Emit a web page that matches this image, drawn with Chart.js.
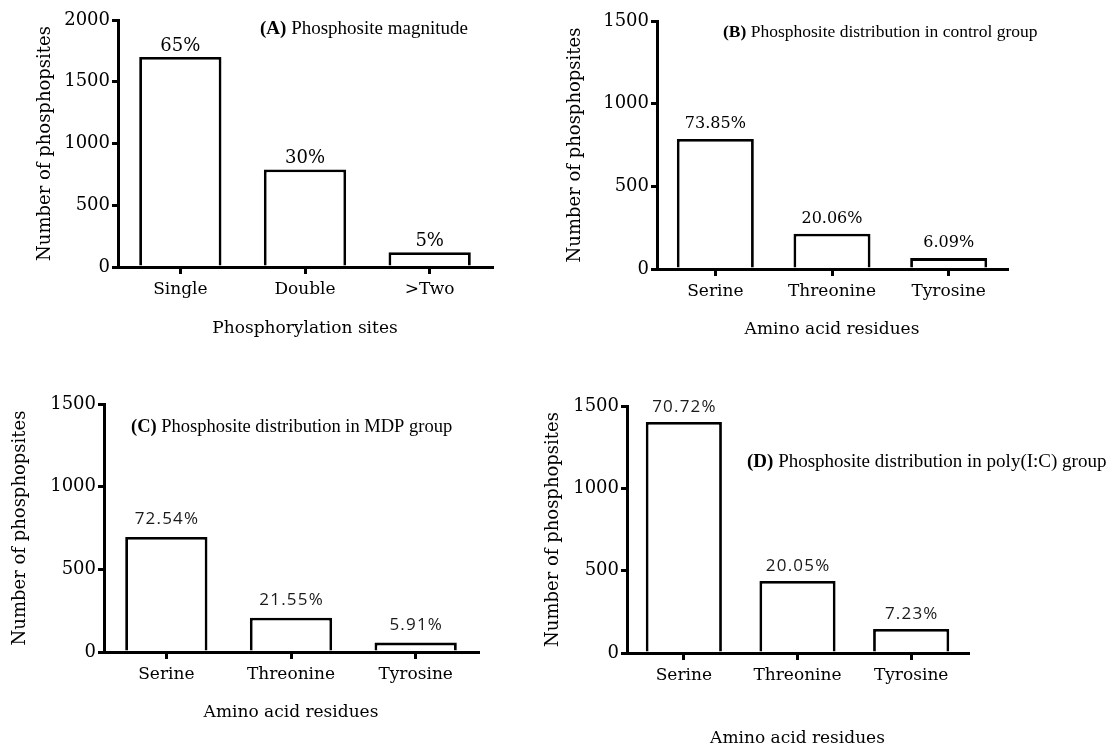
<!DOCTYPE html>
<html>
<head>
<meta charset="utf-8">
<script src="https://cdn.jsdelivr.net/npm/chart.js@4/dist/chart.umd.min.js"></script>
<style>
  html, body { margin: 0; padding: 0; background: #fff; overflow: hidden; }
  #wrap { position: relative; width: 1114px; height: 749px; }
  #wrap canvas { position: absolute; left: 0; top: 0; }
</style>
</head>
<body>
<div id="wrap">
  <canvas id="panelA" width="1114" height="749"></canvas>
  <canvas id="panelB" width="1114" height="749"></canvas>
  <canvas id="panelC" width="1114" height="749"></canvas>
  <canvas id="panelD" width="1114" height="749"></canvas>
</div>
<script>
// ---- data ----
const magnitudeCategories = ['Single', 'Double', '>Two'];
const magnitudeCounts = [1700, 790, 120];
const magnitudeShares = ['65%', '30%', '5%'];

const residueCategories = ['Serine', 'Threonine', 'Tyrosine'];

const controlCounts = [786, 213, 66];
const controlShares = ['73.85%', '20.06%', '6.09%'];

const mdpCounts = [696, 207, 57];
const mdpShares = ['72.54%', '21.55%', '5.91%'];

const polyICCounts = [1403, 437, 146];
const polyICShares = ['70.72%', '20.05%', '7.23%'];

const magnitudeTicks = [0, 500, 1000, 1500, 2000];
const residueTicks = [0, 500, 1000, 1500];

const yTitleText = 'Number of phosphopsites';
const magnitudeXTitle = 'Phosphorylation sites';
const residueXTitle = 'Amino acid residues';

// ---- drawing ----
const PAGE_W = 1114, PAGE_H = 749;
const SERIF = '"DejaVu Serif", serif';
const TITLE_SERIF = '"Liberation Serif", "Times New Roman", serif';
const INK = '#000';

// Panel caption: bold letter tag followed by a plain description
const captionPlugin = {
  id: 'panelCaption',
  afterDraw(chart, args, opts) {
    const ctx = chart.ctx;
    ctx.save();
    ctx.fillStyle = INK;
    ctx.textBaseline = 'alphabetic';
    ctx.textAlign = 'left';
    ctx.font = 'bold ' + opts.size + 'px ' + TITLE_SERIF;
    ctx.fillText(opts.tag, opts.x, opts.y);
    const w = ctx.measureText(opts.tag + ' ').width;
    ctx.font = opts.size + 'px ' + TITLE_SERIF;
    ctx.fillText(opts.text, opts.x + w, opts.y);
    ctx.restore();
  }
};

// Share labels above each bar
const shareLabelPlugin = {
  id: 'shareLabels',
  afterDatasetsDraw(chart, args, opts) {
    const ctx = chart.ctx;
    const meta = chart.getDatasetMeta(0);
    ctx.save();
    ctx.fillStyle = opts.color;
    ctx.font = opts.font;
    if ('letterSpacing' in ctx) ctx.letterSpacing = opts.spacing + 'px';
    ctx.textAlign = 'center';
    ctx.textBaseline = 'alphabetic';
    meta.data.forEach((bar, i) => {
      ctx.fillText(opts.labels[i], bar.x + opts.spacing / 2, bar.y - opts.gap);
    });
    ctx.restore();
  }
};

function makePanel(id, cats, counts, shares, ticks, xTitle, area, caption, share) {
  const yTitleSize = 18, xTitleSize = 17;
  const yLH = yTitleSize * 1.2, xLH = xTitleSize * 1.2;
  const padLeft = area.yTitleX - yLH / 2;
  const yWidth = area.left - padLeft;
  const xBottom = Math.min(PAGE_H, area.xTitleY + xLH / 2);
  const xHeight = xBottom - area.bottom;

  new Chart(document.getElementById(id), {
    type: 'bar',
    data: {
      labels: cats,
      datasets: [{
        data: counts,
        backgroundColor: '#fff',
        borderColor: '#000',
        borderWidth: 2.8,
        borderSkipped: 'start',
        categoryPercentage: 1,
        barPercentage: area.barPct
      }]
    },
    options: {
      responsive: false,
      animation: false,
      events: [],
      layout: {
        padding: {
          left: padLeft,
          right: PAGE_W - area.right,
          top: area.top,
          bottom: PAGE_H - xBottom
        }
      },
      plugins: {
        legend: { display: false },
        tooltip: { enabled: false },
        panelCaption: caption,
        shareLabels: share
      },
      scales: {
        x: {
          grid: {
            display: true, drawOnChartArea: false, drawTicks: true,
            offset: false, tickLength: 7, color: '#000', lineWidth: 3
          },
          border: { display: true, color: '#000', width: 3 },
          ticks: { color: INK, padding: 5, font: { family: SERIF, size: 17 } },
          title: {
            display: true, text: xTitle, color: INK,
            font: { family: SERIF, size: xTitleSize },
            padding: { top: 0, bottom: 0 }
          },
          afterFit(s) { s.height = xHeight; }
        },
        y: {
          min: 0,
          max: ticks[ticks.length - 1],
          afterBuildTicks(s) { s.ticks = ticks.map(v => ({ value: v })); },
          grid: {
            display: true, drawOnChartArea: false, drawTicks: true,
            tickLength: 6, color: '#000', lineWidth: 3
          },
          border: { display: true, color: '#000', width: 3 },
          ticks: {
            color: INK, padding: 2, font: { family: SERIF, size: 18 },
            callback: v => String(v)
          },
          title: {
            display: true, text: yTitleText, color: INK,
            font: { family: SERIF, size: yTitleSize },
            padding: { top: 0, bottom: 0 }
          },
          afterFit(s) { s.width = yWidth; }
        }
      }
    },
    plugins: [captionPlugin, shareLabelPlugin]
  });
}

const serifShare = (labels, size, gap) => ({ labels, font: size + 'px ' + SERIF, gap, spacing: 0, color: INK });
const thinShare = (labels, gap) => ({ labels, font: '17px "Open Sans", "DejaVu Sans", sans-serif', gap, spacing: 1.2, color: '#1a1a1a' });

makePanel('panelA', magnitudeCategories, magnitudeCounts, magnitudeShares, magnitudeTicks, magnitudeXTitle,
  { left: 118, right: 492, top: 20, bottom: 267, yTitleX: 45, xTitleY: 329, barPct: 0.66 },
  { tag: '(A)', text: 'Phosphosite magnitude', x: 260, y: 34, size: 19 },
  serifShare(magnitudeShares, 18, 6));

makePanel('panelB', residueCategories, controlCounts, controlShares, residueTicks, residueXTitle,
  { left: 657, right: 1007, top: 21, bottom: 269, yTitleX: 575, xTitleY: 330, barPct: 0.66 },
  { tag: '(B)', text: 'Phosphosite distribution in control group', x: 723, y: 37, size: 17.5 },
  serifShare(controlShares, 16, 11));

makePanel('panelC', residueCategories, mdpCounts, mdpShares, residueTicks, residueXTitle,
  { left: 104, right: 478, top: 404, bottom: 652, yTitleX: 20, xTitleY: 713, barPct: 0.66 },
  { tag: '(C)', text: 'Phosphosite distribution in MDP group', x: 131, y: 432, size: 18.5 },
  thinShare(mdpShares, 13));

makePanel('panelD', residueCategories, polyICCounts, polyICShares, residueTicks, residueXTitle,
  { left: 627, right: 968, top: 406, bottom: 653, yTitleX: 553, xTitleY: 740, barPct: 0.67 },
  { tag: '(D)', text: 'Phosphosite distribution in poly(I:C) group', x: 747, y: 467, size: 19 },
  thinShare(polyICShares, 10));
</script>
</body>
</html>
